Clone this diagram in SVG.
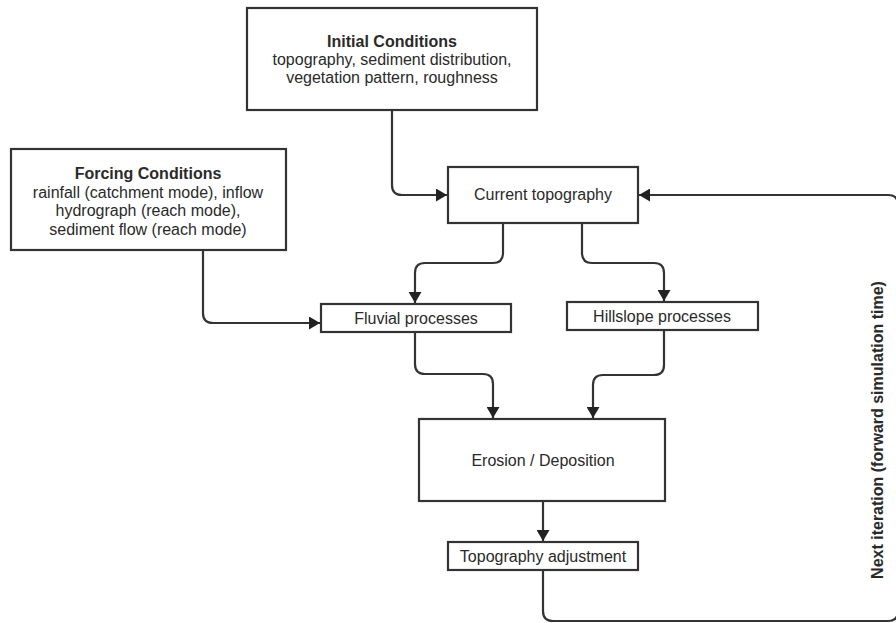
<svg xmlns="http://www.w3.org/2000/svg" width="896" height="623" viewBox="0 0 896 623">
<defs>
<style>
.box{fill:#fff;stroke:#333;stroke-width:2.2}
.t{font-family:"Liberation Sans",Arial,sans-serif;font-size:16px;fill:#2a2a2a;text-anchor:middle}
.b{font-weight:bold}
.c{fill:none;stroke:#333;stroke-width:2.2}
</style>
<marker id="ah" viewBox="0 0 11 13" refX="11" refY="6.5" markerWidth="11" markerHeight="13" markerUnits="userSpaceOnUse" orient="auto">
<path d="M0,0 L11,6.5 L0,13 z" fill="#222"/>
</marker>
</defs>
<rect width="896" height="623" fill="#fff"/>
<g id="connectors">
<path class="c" marker-end="url(#ah)" d="M392,110 V185 Q392,195 402,195 H447"/>
<path class="c" marker-end="url(#ah)" d="M203,250 V313 Q203,323 213,323 H320"/>
<path class="c" marker-end="url(#ah)" d="M503,223 V253 Q503,263 493,263 H425 Q415,263 415,273 V303"/>
<path class="c" marker-end="url(#ah)" d="M582,223 V253 Q582,263 592,263 H654 Q664,263 664,273 V301"/>
<path class="c" marker-end="url(#ah)" d="M415,332 V364 Q415,374 425,374 H483 Q493,374 493,384 V418"/>
<path class="c" marker-end="url(#ah)" d="M664,330 V365 Q664,375 654,375 H603 Q593,375 593,385 V418"/>
<path class="c" marker-end="url(#ah)" d="M543,501 V541"/>
<path class="c" marker-end="url(#ah)" d="M543,570 V611 Q543,621 553,621 H888 Q898,621 898,611 V205 Q898,195 888,195 H639"/>
</g>
<g id="initial">
<rect class="box" x="247" y="8" width="290" height="102"/>
<text class="t b" x="392" y="47">Initial Conditions</text>
<text class="t" x="392" y="65">topography, sediment distribution,</text>
<text class="t" x="392" y="83">vegetation pattern, roughness</text>
</g>
<g id="forcing">
<rect class="box" x="11" y="149" width="275" height="101"/>
<text class="t b" x="148" y="179">Forcing Conditions</text>
<text class="t" x="148" y="197.5">rainfall (catchment mode), inflow</text>
<text class="t" x="148" y="216">hydrograph (reach mode),</text>
<text class="t" x="148" y="234.5">sediment flow (reach mode)</text>
</g>
<g id="current">
<rect class="box" x="448" y="167" width="190" height="56"/>
<text class="t" x="543" y="200">Current topography</text>
</g>
<g id="fluvial">
<rect class="box" x="321" y="304" width="190" height="28"/>
<text class="t" x="416" y="323.5">Fluvial processes</text>
</g>
<g id="hillslope">
<rect class="box" x="567" y="302" width="191" height="28"/>
<text class="t" x="662" y="321.5">Hillslope processes</text>
</g>
<g id="erosion">
<rect class="box" x="419" y="419" width="246" height="82"/>
<text class="t" x="543" y="465.5">Erosion / Deposition</text>
</g>
<g id="adjustment">
<rect class="box" x="448" y="542" width="190" height="28"/>
<text class="t" x="543" y="561.5">Topography adjustment</text>
</g>
<g id="loop-label">
<text class="t b" transform="translate(882.5,430) rotate(-90)">Next iteration (forward simulation time)</text>
</g>
</svg>
